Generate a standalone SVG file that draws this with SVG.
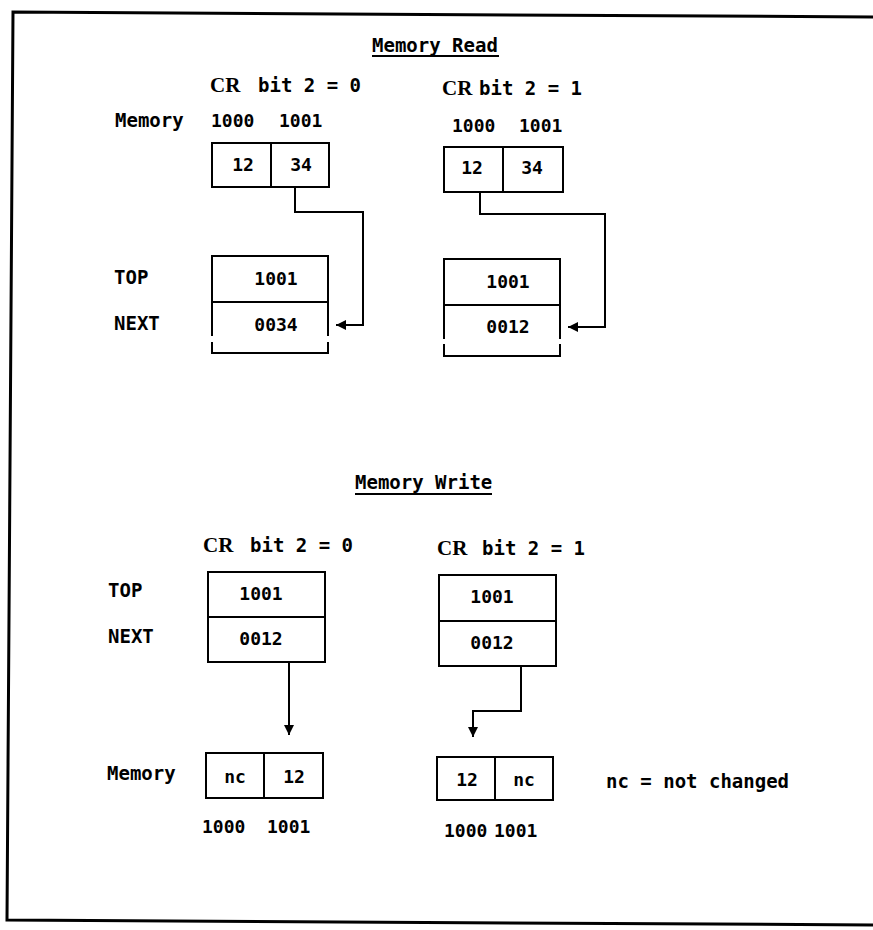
<svg xmlns="http://www.w3.org/2000/svg" width="873" height="930" viewBox="0 0 873 930">
<defs>
<style>
.t{font-family:"DejaVu Sans Mono","Liberation Mono",monospace;font-weight:bold;font-size:19px;fill:#000}
.d{font-family:"DejaVu Sans Mono","Liberation Mono",monospace;font-weight:bold;font-size:18px;fill:#000}
.c{text-anchor:middle}
.cr{font-family:"Liberation Serif","Times New Roman",serif;font-weight:bold;font-size:21px;fill:#000}
.box{fill:none;stroke:#000;stroke-width:2}
.ln{fill:none;stroke:#000;stroke-width:2}
.frame{fill:none;stroke:#000;stroke-width:3}
</style>
<marker id="ah" viewBox="0 0 10 10" refX="10" refY="5" markerWidth="5" markerHeight="5" markerUnits="strokeWidth" orient="auto">
<path d="M0,0 L10,5 L0,10 Z" fill="#000"/>
</marker>
</defs>
<rect width="873" height="930" fill="#fff"/>
<path class="frame" d="M873,17 L13,12 L7,920 L873,925"/>

<g id="title-read">
<text class="t" x="372" y="52">Memory Read</text>
<line x1="372" y1="56" x2="499" y2="56" stroke="#000" stroke-width="2.2"/>
</g>

<g id="read-left-header">
<text class="cr" x="210" y="92">CR</text>
<text class="t" x="258" y="92">bit 2 = 0</text>
<text class="t" x="115" y="127">Memory</text>
<text class="d" x="211" y="127">1000</text>
<text class="d" x="279" y="127">1001</text>
</g>

<g id="read-left-mem">
<rect class="box" x="212" y="143" width="117" height="44"/>
<line class="box" x1="271" y1="143" x2="271" y2="187"/>
<text class="d c" x="243" y="171">12</text>
<text class="d c" x="301" y="171">34</text>
</g>

<g id="read-left-stack">
<text class="t" x="114" y="284">TOP</text>
<text class="t" x="114" y="330">NEXT</text>
<path class="box" d="M212,336 V256 H328 V336"/>
<line class="box" x1="212" y1="302" x2="328" y2="302"/>
<path class="box" d="M212,342 V353 H328 V342"/>
<text class="d c" x="276" y="285">1001</text>
<text class="d c" x="276" y="331">0034</text>
</g>

<g id="read-right-header">
<text class="cr" x="442" y="95">CR</text>
<text class="t" x="479" y="95">bit 2 = 1</text>
<text class="d" x="452" y="132">1000</text>
<text class="d" x="519" y="132">1001</text>
</g>

<g id="read-right-mem">
<rect class="box" x="444" y="147" width="119" height="45"/>
<line class="box" x1="503" y1="147" x2="503" y2="192"/>
<text class="d c" x="472" y="174">12</text>
<text class="d c" x="532" y="174">34</text>
</g>

<g id="read-right-stack">
<path class="box" d="M444,339 V259 H560 V339"/>
<line class="box" x1="444" y1="305" x2="560" y2="305"/>
<path class="box" d="M444,344 V356 H560 V344"/>
<text class="d c" x="508" y="288">1001</text>
<text class="d c" x="508" y="333">0012</text>
</g>

<g id="title-write">
<text class="t" x="355" y="489">Memory Write</text>
<line x1="355" y1="494" x2="492" y2="494" stroke="#000" stroke-width="2.2"/>
</g>

<g id="write-left-header">
<text class="cr" x="203" y="552">CR</text>
<text class="t" x="250" y="552">bit 2 = 0</text>
</g>

<g id="write-left-stack">
<text class="t" x="108" y="597">TOP</text>
<text class="t" x="108" y="643">NEXT</text>
<rect class="box" x="208" y="572" width="117" height="90"/>
<line class="box" x1="208" y1="617" x2="325" y2="617"/>
<text class="d c" x="261" y="600">1001</text>
<text class="d c" x="261" y="645">0012</text>
</g>

<g id="write-right-header">
<text class="cr" x="437" y="555">CR</text>
<text class="t" x="482" y="555">bit 2 = 1</text>
</g>

<g id="write-right-stack">
<rect class="box" x="439" y="575" width="117" height="91"/>
<line class="box" x1="439" y1="621" x2="556" y2="621"/>
<text class="d c" x="492" y="603">1001</text>
<text class="d c" x="492" y="649">0012</text>
</g>

<g id="write-left-mem">
<text class="t" x="107" y="780">Memory</text>
<rect class="box" x="206" y="753" width="117" height="45"/>
<line class="box" x1="264" y1="753" x2="264" y2="798"/>
<text class="d c" x="235" y="783">nc</text>
<text class="d c" x="294" y="783">12</text>
<text class="d" x="202" y="833">1000</text>
<text class="d" x="267" y="833">1001</text>
</g>

<g id="write-right-mem">
<rect class="box" x="437" y="757" width="116" height="43"/>
<line class="box" x1="495" y1="757" x2="495" y2="800"/>
<text class="d c" x="467" y="786">12</text>
<text class="d c" x="524" y="786">nc</text>
<text class="d" x="444" y="837">1000</text>
<text class="d" x="494" y="837">1001</text>
</g>

<g id="legend">
<text class="t" x="606" y="788">nc = not changed</text>
</g>

<g id="connectors">
<path class="ln" d="M295,187 V212 H363 V325 H336" marker-end="url(#ah)"/>
<path class="ln" d="M480,192 V214 H605 V327 H568" marker-end="url(#ah)"/>
<path class="ln" d="M289,662 V735" marker-end="url(#ah)"/>
<path class="ln" d="M521,666 V711 H473 V737" marker-end="url(#ah)"/>
</g>
</svg>
